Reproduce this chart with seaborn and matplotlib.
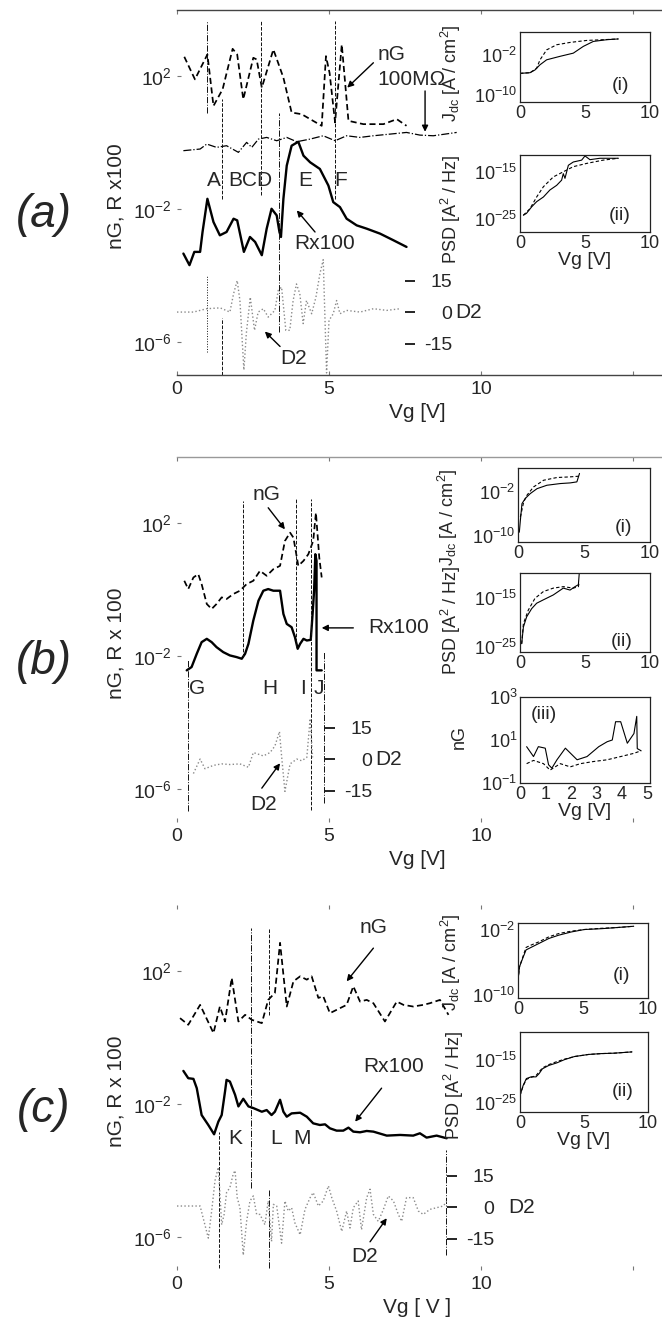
import numpy as np
import matplotlib
matplotlib.use('Agg')
import matplotlib.pyplot as plt
from matplotlib.ticker import NullLocator
import seaborn as sns

sns.set_style('white')
plt.rcParams['font.family'] = ['Liberation Sans', 'DejaVu Sans']
plt.rcParams['mathtext.fontset'] = 'custom'
plt.rcParams['mathtext.rm'] = 'Liberation Sans'
plt.rcParams['mathtext.it'] = 'Liberation Sans:italic'
plt.rcParams['mathtext.bf'] = 'Liberation Sans:bold'

# ---------------- data (log10 values for log axes) ----------------
# panel (a)
a_ng_x = [0.24, 0.59, 1.0, 1.2, 1.5, 1.83, 1.98, 2.18, 2.51, 2.62, 2.79, 3.17, 3.5, 3.77, 4.1, 4.76,
          4.9, 5.02, 5.2, 5.42, 5.64, 6.13, 6.79, 7.23, 7.55]
a_ng_lg = [2.59, 1.91, 2.66, 1.11, 1.61, 2.83, 2.66, 1.31, 2.56, 2.51, 1.66, 2.81, 1.96, 0.91, 0.86, 0.51,
           2.61, 2.1, 0.61, 2.96, 0.66, 0.56, 0.56, 0.71, 0.51]
a_r_x = [0.21, 0.41, 0.57, 0.76, 0.84, 1.0, 1.2, 1.41, 1.63, 1.86, 1.98, 2.2, 2.4, 2.57, 2.79, 2.95, 3.11,
         3.28, 3.37, 3.42, 3.5, 3.61, 3.77, 3.99, 4.16, 4.38, 4.7, 4.98, 5.14, 5.36, 5.58, 5.91, 6.24,
         6.68, 7.12, 7.55]
a_r_lg = [-3.34, -3.69, -3.29, -3.29, -2.69, -1.69, -2.39, -2.79, -2.69, -2.29, -2.34, -3.29, -2.84,
          -2.99, -3.39, -2.59, -1.99, -2.19, -2.69, -2.84, -1.69, -0.69, -0.09, 0.03, -0.39, -0.59,
          -0.79, -1.29, -1.79, -1.94, -2.29, -2.49, -2.59, -2.74, -2.94, -3.14]
a_m_x = [0.21, 0.76, 0.98, 1.3, 1.63, 2.02, 2.29, 2.46, 2.68, 2.95, 3.28, 3.61, 3.94, 4.38, 4.81, 5.2,
         5.58, 6.02, 6.46, 7.01, 7.55, 7.99, 8.43, 8.82, 9.2]
a_m_lg = [-0.24, -0.19, -0.04, -0.14, -0.09, -0.29, 0.01, -0.14, 0.11, 0.16, 0.06, 0.16, 0.03, 0.11,
          0.21, 0.06, 0.21, 0.16, 0.21, 0.26, 0.31, 0.23, 0.21, 0.26, 0.31]
a_d2_x = [0.0, 0.54, 0.98, 1.42, 1.74, 1.86, 1.98, 2.07, 2.2, 2.28, 2.41, 2.55, 2.67, 2.84, 3.0, 3.22,
          3.33, 3.44, 3.58, 3.71, 3.82, 3.93, 4.04, 4.15, 4.26, 4.43, 4.57, 4.7, 4.81, 4.92, 5.0, 5.14,
          5.25, 5.36, 5.58, 6.02, 6.46, 6.9, 7.34]
a_d2 = [0, 0, 1.6, 2, 0, 8.7, 15, 5.5, -27.6, -10.3, 7.1, -8.7, 0, 1.6, -2.4, 0.8, 10.3, 11.9, -8.7,
        -8.7, 5.5, 13.4, 8.7, -5.5, 5.5, -0.8, 7.1, 18.2, 25, -29, -4, -0.8, 5.5, -0.8, 0.8, 0, 1.6,
        0.8, 1.6]
a_vl_x = [1.0, 1.0, 1.49, 1.49, 2.76, 3.37, 5.2]
a_vl_lo = [0.9, -6.3, -1.69, -7.0, -1.59, -5.69, -1.69]
a_vl_hi = [3.66, -4.0, 1.31, -5.29, 3.66, 0.91, 3.66]
a_vl_ls = ['-.', ':', '--', '--', '--', '-.', '--']
a_marks = ['A', 'BCD', 'E', 'F']
a_marks_x = [1.2, 2.4, 4.21, 5.38]

a_i_x = [0.0, 0.77, 1.15, 1.54, 2.05, 3.08, 4.1, 4.87, 5.64, 6.67, 7.56]
a_i_lg = [-5.73, -5.6, -5.05, -4.0, -3.0, -2.3, -1.66, -0.3, 0.7, 1.05, 1.2]
a_i_dx = [0.0, 0.77, 1.28, 1.54, 2.05, 2.82, 3.85, 5.13, 6.4, 7.56]
a_i_dlg = [-5.73, -5.6, -4.7, -3.0, -1.0, 0.03, 0.5, 0.9, 1.05, 1.2]
a_ii_x = [0.26, 0.5, 0.9, 1.28, 1.8, 2.3, 2.82, 3.2, 3.33, 3.46, 3.72, 4.1, 4.74, 5.0, 5.38, 6.15, 7.56]
a_ii_lg = [-24.3, -23.9, -22.5, -21.4, -20.4, -18.9, -17.9, -16.8, -15.4, -16.4, -13.6, -12.9, -12.5,
           -11.6, -12.4, -12.1, -12.1]
a_ii_dx = [0.26, 0.77, 1.28, 1.8, 2.56, 3.33, 4.1, 5.13, 6.4, 7.56]
a_ii_dlg = [-24.3, -22.9, -20.4, -18.2, -16.1, -15.0, -13.9, -13.2, -12.5, -12.1]

# panel (b)
b_ng_x = [0.24, 0.37, 0.54, 0.7, 0.81, 0.98, 1.14, 1.3, 1.47, 1.63, 1.85, 2.07, 2.29, 2.51, 2.73, 2.95,
          3.17, 3.39, 3.55, 3.72, 3.83, 3.99, 4.16, 4.32, 4.48, 4.57, 4.68, 4.76]
b_ng_lg = [0.27, 0.02, 0.37, 0.47, 0.17, -0.43, -0.58, -0.43, -0.23, -0.28, -0.13, -0.03, 0.17, 0.27,
           0.57, 0.42, 0.62, 0.72, 1.47, 1.72, 1.57, 0.72, 0.87, 1.07, 1.47, 2.32, 0.97, 0.37]
b_r_x = [0.32, 0.48, 0.65, 0.81, 0.98, 1.14, 1.3, 1.52, 1.74, 1.96, 2.13, 2.24, 2.35, 2.51, 2.68, 2.84,
         3.0, 3.17, 3.39, 3.5, 3.61, 3.77, 3.88, 3.97, 4.05, 4.16, 4.27, 4.4, 4.46, 4.51, 4.55, 4.59,
         4.59, 4.76]
b_r_lg = [-2.43, -2.33, -1.93, -1.58, -1.48, -1.58, -1.73, -1.88, -1.98, -2.03, -2.08, -1.93, -1.63,
          -0.93, -0.33, -0.03, 0.02, -0.03, -0.03, -0.73, -1.03, -1.13, -1.43, -1.78, -1.63, -1.48,
          -1.53, -1.51, -0.73, -0.03, 1.07, 0.87, -2.43, -2.43]
b_d2_x = [0.54, 0.76, 0.92, 1.2, 1.47, 1.74, 2.07, 2.35, 2.51, 2.68, 2.84, 3.06, 3.22, 3.37, 3.44, 3.55,
          3.72, 3.94, 4.1, 4.27, 4.38, 4.46]
b_d2 = [-6.9, 0, -4.6, -3, -2.3, -2.6, -2.3, -3.9, 3.1, 2.3, 1.5, 3.1, 6.2, 13.1, 1.5, -15.4, -2.3, 0,
        -0.8, 0.8, 19.3, 0.8]
b_vl_x = [0.35, 2.18, 3.9, 4.4, 4.84]
b_vl_lo = [-6.68, -2.03, -1.73, -6.63, -6.43]
b_vl_hi = [-2.13, 2.67, 2.72, 2.72, -1.88]
b_vl_ls = ['-.', '--', '--', '--', '-.']
b_marks = ['G', 'H', 'I', 'J']
b_marks_x = [0.65, 3.06, 4.13, 4.65]

b_i_x = [0.1, 0.18, 0.3, 0.55, 0.93, 1.44, 2.19, 3.2, 3.95, 4.46, 4.66]
b_i_lg = [-9.4, -7.2, -4.15, -3.2, -2.3, -1.4, -0.77, -0.46, -0.34, -0.15, 1.4]
b_i_dx = [0.18, 0.43, 0.68, 1.18, 1.94, 2.95, 3.95, 4.66]
b_i_dlg = [-6.6, -3.85, -2.6, -1.08, 0.15, 0.65, 0.77, 0.9]
b_ii_x = [0.13, 0.26, 0.51, 0.9, 1.28, 1.8, 2.56, 3.33, 3.85, 4.23, 4.49, 4.56]
b_ii_lg = [-24.3, -20.9, -18.8, -17.1, -16.0, -15.3, -14.3, -12.9, -13.3, -12.6, -12.2, -9.8]
b_ii_dx = [0.13, 0.26, 0.64, 1.15, 1.8, 2.56, 3.33, 4.1, 4.49, 4.56]
b_ii_dlg = [-24.3, -20.2, -17.4, -15.0, -13.6, -12.9, -12.6, -12.9, -12.6, -11.6]
b_iii_x = [0.26, 0.53, 0.72, 0.99, 1.12, 1.25, 1.45, 1.78, 2.24, 2.63, 3.09, 3.42, 3.62, 3.75, 3.95,
           4.21, 4.47, 4.58, 4.6, 4.75]
b_iii_lg = [0.69, 0.23, 0.69, 0.62, -0.15, -0.31, 0.08, 0.62, 0.08, 0.23, 0.69, 0.92, 1.0, 1.85, 1.85,
            0.85, 1.3, 2.1, 0.6, 0.5]
b_iii_dx = [0.26, 0.53, 0.92, 1.18, 1.58, 1.97, 2.37, 2.89, 3.42, 3.95, 4.47, 4.75]
b_iii_dlg = [-0.1, 0.05, -0.1, -0.4, -0.1, -0.25, -0.1, 0.0, 0.08, 0.23, 0.38, 0.5]

# panel (c)
c_ng_x = [0.1, 0.37, 0.76, 1.2, 1.41, 1.58, 1.8, 2.02, 2.24, 2.46, 2.79, 3.0, 3.22, 3.39, 3.61, 3.83,
          4.05, 4.27, 4.43, 4.65, 4.81, 5.03, 5.25, 5.58, 5.8, 6.02, 6.24, 6.46, 6.84, 7.23, 7.45, 7.77,
          8.1, 8.32, 8.65, 8.93]
c_ng_lg = [0.59, 0.39, 0.99, 0.14, 0.94, 0.49, 1.8, 0.49, 0.69, 0.54, 0.44, 1.14, 1.35, 2.86, 0.94,
           1.7, 1.85, 1.75, 1.85, 1.2, 1.25, 0.74, 0.84, 0.99, 1.55, 1.09, 1.14, 1.04, 0.49, 1.09, 0.99,
           0.94, 0.99, 1.04, 1.14, 0.69]
c_r_x = [0.21, 0.37, 0.54, 0.65, 0.81, 1.03, 1.22, 1.36, 1.47, 1.58, 1.63, 1.74, 1.91, 2.02, 2.18, 2.35,
         2.51, 2.79, 2.95, 3.11, 3.22, 3.39, 3.5, 3.61, 3.77, 4.05, 4.27, 4.48, 4.7, 4.87, 5.03, 5.25,
         5.47, 5.64, 5.8, 6.02, 6.24, 6.46, 6.9, 7.34, 7.77, 7.99, 8.21, 8.54, 8.87]
c_r_lg = [-1.0, -1.22, -1.24, -1.52, -2.33, -2.63, -2.91, -2.53, -2.33, -1.62, -1.27, -1.32, -1.72,
          -2.07, -1.84, -2.07, -2.12, -2.23, -2.18, -2.33, -2.23, -1.87, -2.23, -2.38, -2.28, -2.26,
          -2.38, -2.58, -2.63, -2.61, -2.73, -2.8, -2.8, -2.71, -2.83, -2.85, -2.81, -2.83, -2.95,
          -2.93, -2.95, -2.88, -3.01, -2.95, -3.03]
c_d2_x = [0.0, 0.32, 0.76, 1.03, 1.14, 1.25, 1.36, 1.47, 1.55, 1.63, 1.74, 1.85, 1.91, 1.98, 2.07, 2.18,
          2.29, 2.4, 2.51, 2.62, 2.73, 2.89, 3.0, 3.11, 3.17, 3.28, 3.44, 3.55, 3.66, 3.77, 3.88, 4.05,
          4.21, 4.38, 4.48, 4.65, 4.81, 4.98, 5.09, 5.25, 5.42, 5.58, 5.69, 5.8, 5.96, 6.07, 6.24, 6.35,
          6.46, 6.62, 6.79, 6.95, 7.12, 7.28, 7.39, 7.55, 7.77, 7.94, 8.1, 8.32, 8.54, 8.76, 8.93]
c_d2 = [0.5, 0.5, 0.5, -14.8, -1.9, 12.6, 19.0, -8.4, -3.5, 6.9, 9.3, 15.8, 17.4, 4.5, -0.3, -22.9,
        -6.8, 2.9, 5.3, -3.5, -3.5, -8.4, 2.9, -16.4, 1.3, 0.5, -17.2, 2.9, -1.9, -0.3, -7.6, -13.2,
        -1.1, 4.5, 6.9, 0.5, 2.9, 10.1, 4.5, -1.9, -11.6, -1.9, -10.0, -0.3, 2.9, -10.8, 4.5, 8.5,
        -3.5, -6.8, -1.1, 5.3, 2.9, -3.5, -6.8, 4.5, 4.5, -1.9, -3.5, -1.1, -0.3, 0.5, 3.7]
c_vl_x = [1.38, 2.43, 3.04, 3.04, 8.85]
c_vl_lo = [-6.95, -4.54, 0.69, -6.95, -6.55]
c_vl_hi = [-2.83, 3.31, 3.31, -4.59, -3.38]
c_vl_ls = ['--', '-.', '--', '-.', '-.']
c_marks = ['K', 'L', 'M']
c_marks_x = [1.91, 3.26, 4.1]

c_i_x = [0.0, 0.12, 0.37, 0.62, 0.87, 1.62, 2.37, 3.12, 4.1, 5.1, 6.4, 7.6, 8.9]
c_i_lg = [-8.2, -6.55, -5.5, -4.5, -4.3, -3.7, -3.1, -2.7, -2.3, -2.0, -1.9, -1.76, -1.6]
c_i_dx = [0.0, 0.12, 0.62, 0.87, 1.62, 2.37, 3.12, 4.1, 5.1, 6.4, 7.6, 8.9]
c_i_dlg = [-8.2, -6.55, -4.2, -4.0, -3.5, -2.9, -2.5, -2.2, -2.0, -1.85, -1.76, -1.6]
c_ii_x = [0.0, 0.25, 0.5, 0.87, 1.25, 1.5, 1.75, 2.25, 2.87, 3.5, 4.25, 5.37, 6.37, 7.37, 8.75]
c_ii_lg = [-23.3, -20.9, -19.3, -18.9, -18.9, -18.1, -17.0, -16.2, -15.6, -14.8, -14.1, -13.6, -13.4,
           -13.3, -13.0]
c_ii_dx = [0.0, 0.25, 0.5, 0.87, 1.25, 1.75, 2.25, 2.87, 3.5, 4.25, 5.37, 6.37, 7.37, 8.75]
c_ii_dlg = [-23.3, -21.0, -19.5, -19.0, -18.6, -16.8, -16.0, -15.3, -14.7, -14.1, -13.6, -13.4,
            -13.3, -13.0]

# ---------------- figure ----------------
W, H = 662, 1323
PX0, PXV = 177, 30.4          # pixel of Vg=0 and pixels per volt (main panels)
fig = plt.figure(figsize=(W / 100, H / 100), dpi=100)


def px_axes(x0, y0, x1, y1):
    return fig.add_axes([x0 / W, 1 - y1 / H, (x1 - x0) / W, (y1 - y0) / H])


def v_at(px):
    return (px - PX0) / PXV


def line(ax, x, y, log=True, **kw):
    y = 10.0 ** np.asarray(y) if log else np.asarray(y)
    sns.lineplot(x=np.asarray(x), y=y, ax=ax, estimator=None, sort=False, **kw)


def main_panel(top, spines, spine_col, ylabel, xlabel, letter):
    ax = px_axes(PX0, top, W, top + 365)
    ax.set_facecolor('none')
    ax.set_yscale('log')
    ax.set_xlim(0, v_at(W))
    ax.set_ylim(1e-7, 1e4)
    ax.set_yticks([1e-6, 1e-2, 1e2])
    ax.yaxis.set_minor_locator(NullLocator())
    ax.set_xticks([0, 5, 10, 15])
    ax.set_xticklabels(['0', '5', '10', ''])
    for name, sp in ax.spines.items():
        sp.set_visible(name in spines)
        sp.set_color(spine_col)
        sp.set_linewidth(1.0)
    ax.tick_params(axis='both', direction='in', length=3, width=0.8, color='#777777',
                   labelsize=14, top=True, left=True, bottom=True, pad=4)
    ax.set_ylabel(ylabel, fontsize=15)
    ax.yaxis.set_label_coords(-0.107, 0.49)
    ax.set_xlabel(xlabel, fontsize=15, va='center')
    ax.xaxis.set_label_coords(0.495, -0.102)
    fig.text(44 / W, 1 - (top + 205) / H, letter, fontsize=33, style='italic',
             ha='center', va='center')
    return ax


def d2_panel(top, right_px, d2_label_px):
    ax = px_axes(PX0, top, right_px, top + 365)
    ax.set_facecolor('none')
    ax.set_xlim(0, v_at(right_px))
    ax.set_ylim(-30, 144)
    for sp in ax.spines.values():
        sp.set_visible(False)
    ax.set_xticks([])
    ax.yaxis.tick_right()
    ax.set_yticks([15, 0, -15])
    ax.set_yticklabels(['15', '0', '-15'])
    ax.tick_params(axis='y', direction='out', length=7, width=1.2, color='k', pad=27, labelsize=14)
    plt.setp(ax.get_yticklabels(), ha='right')
    ax.text(v_at(d2_label_px), 0, 'D2', fontsize=15, ha='left', va='center')
    return ax


def inset(x0, y0, x1, y1, xlim, ylim, yticks, xticks, ylabel, ylab_pos, tag, tag_pos, xlabel=None):
    ax = px_axes(x0, y0, x1, y1)
    ax.set_yscale('log')
    ax.set_xlim(*xlim)
    ax.set_ylim(10.0 ** ylim[0], 10.0 ** ylim[1])
    ax.set_yticks([10.0 ** t for t in yticks])
    ax.yaxis.set_minor_locator(NullLocator())
    ax.set_xticks(xticks)
    for sp in ax.spines.values():
        sp.set_color('#222222')
        sp.set_linewidth(0.9)
    ax.tick_params(axis='both', direction='in', length=2, width=0.6, labelsize=13, pad=2)
    ax.set_ylabel(ylabel, fontsize=13)
    ax.yaxis.set_label_coords(*ylab_pos)
    ax.text(tag_pos[0], tag_pos[1], tag, transform=ax.transAxes, fontsize=14,
            ha='center', va='center')
    if xlabel:
        ax.set_xlabel(xlabel, fontsize=14, labelpad=0)
    return ax


def arrow(ax, text, xy_text, xy_tail, xy_head, log=True):
    f = (lambda p: (p[0], 10.0 ** p[1])) if log else (lambda p: p)
    ax.text(*f(xy_text), text, fontsize=15, ha='center', va='center')
    ax.annotate('', xy=f(xy_head), xytext=f(xy_tail),
                arrowprops=dict(arrowstyle='-|>', color='k', lw=1.0, mutation_scale=9,
                                shrinkA=0, shrinkB=0))


def vlines(ax, xs, lo, hi, ls):
    for x, a, b, s in zip(xs, lo, hi, ls):
        ax.vlines(x, 10.0 ** a, 10.0 ** b, colors='#111111', linestyles=s, lw=0.7)


NG_STYLE = dict(color='k', linestyle=(0, (3.5, 2)), lw=1.25)
R_STYLE = dict(color='k', linestyle='-', lw=1.7)
D2_STYLE = dict(color='#8a8a8a', linestyle=':', lw=1.0)
IN_SOLID = dict(color='k', linestyle='-', lw=0.8)
IN_DASH = dict(color='k', linestyle=(0, (3, 2)), lw=0.8)

JDC = r'J$_{\rm dc}$ [A / cm$^2$]'
PSD = r'PSD [A$^2$ / Hz]'

# ---------------- panel (a) ----------------
ax = main_panel(10, ['top', 'bottom'], '#444444', 'nG, R x100', 'Vg [V]', '(a)')
d2 = d2_panel(10, 405, 455)
line(d2, a_d2_x, a_d2, log=False, **D2_STYLE)
line(ax, a_ng_x, a_ng_lg, **NG_STYLE)
line(ax, a_m_x, a_m_lg, color='k', linestyle='-.', lw=0.9)
line(ax, a_r_x, a_r_lg, **R_STYLE)
vlines(ax, a_vl_x, a_vl_lo, a_vl_hi, a_vl_ls)
for m, x in zip(a_marks, a_marks_x):
    ax.text(x, 10 ** -1.14, m, fontsize=15, ha='center', va='center')
arrow(ax, 'nG', (7.06, 2.66), (6.46, 2.41), (5.6, 1.66))
arrow(ax, '100MΩ', (7.7, 1.91), (8.16, 1.56), (8.16, 0.33))
arrow(ax, 'Rx100', (4.85, -3.04), (4.54, -2.69), (3.94, -2.04))
arrow(ax, 'D2', (3.83, -6.49), (3.39, -6.14), (2.89, -5.69))

ai = inset(520, 32, 650, 102, (0, 10), (-11.5, 2.6), [-10, -2], [0, 5, 10], JDC, (-0.44, 0.41),
           '(i)', (0.77, 0.24))
line(ai, a_i_x, a_i_lg, **IN_SOLID)
line(ai, a_i_dx, a_i_dlg, **IN_DASH)
aii = inset(520, 155, 650, 232, (0, 10), (-27.9, -11.4), [-25, -15], [0, 5, 10], PSD, (-0.44, 0.29),
            '(ii)', (0.77, 0.22), xlabel='Vg [V]')
line(aii, a_ii_x, a_ii_lg, **IN_SOLID)
line(aii, a_ii_dx, a_ii_dlg, **IN_DASH)

# ---------------- panel (b) ----------------
ax = main_panel(457, ['top'], '#999999', 'nG, R x 100', 'Vg [V]', '(b)')
d2 = d2_panel(457, 325, 375)
line(d2, b_d2_x, b_d2, log=False, **D2_STYLE)
line(ax, b_ng_x, b_ng_lg, **NG_STYLE)
line(ax, b_r_x, b_r_lg, **R_STYLE)
vlines(ax, b_vl_x, b_vl_lo, b_vl_hi, b_vl_ls)
for m, x in zip(b_marks, b_marks_x):
    ax.text(x, 10 ** -2.98, m, fontsize=15, ha='center', va='center')
arrow(ax, 'nG', (2.95, 2.87), (3.0, 2.47), (3.55, 1.82))
arrow(ax, 'Rx100', (7.28, -1.13), (5.8, -1.15), (4.76, -1.15))
arrow(ax, 'D2', (2.84, -6.48), (2.79, -5.98), (3.39, -5.23))

bi = inset(518, 468, 650, 542, (0, 10), (-11.2, 2.4), [-10, -2], [0, 5, 10], JDC, (-0.44, 0.34),
           '(i)', (0.8, 0.2))
line(bi, b_i_x, b_i_lg, **IN_SOLID)
line(bi, b_i_dx, b_i_dlg, **IN_DASH)
bii = inset(520, 573, 650, 652, (0, 10), (-26, -9.8), [-25, -15], [0, 5, 10], PSD, (-0.44, 0.4),
            '(ii)', (0.78, 0.13))
line(bii, b_ii_x, b_ii_lg, **IN_SOLID)
line(bii, b_ii_dx, b_ii_dlg, **IN_DASH)
biii = inset(520, 697, 650, 783, (0, 5.1), (-1, 3), [-1, 1, 3], [0, 1, 2, 3, 4, 5], 'nG',
             (-0.4, 0.53), '(iii)', (0.18, 0.8), xlabel='Vg [V]')
line(biii, b_iii_x, b_iii_lg, **IN_SOLID)
line(biii, b_iii_dx, b_iii_dlg, **IN_DASH)

# ---------------- panel (c) ----------------
ax = main_panel(905, [], '#444444', 'nG, R x 100', 'Vg [ V ]', '(c)')
d2 = d2_panel(905, 447, 508)
line(d2, c_d2_x, c_d2, log=False, **D2_STYLE)
line(ax, c_ng_x, c_ng_lg, **NG_STYLE)
line(ax, c_r_x, c_r_lg, **R_STYLE)
vlines(ax, c_vl_x, c_vl_lo, c_vl_hi, c_vl_ls)
for m, x in zip(c_marks, c_marks_x):
    ax.text(x, 10 ** -3.03, m, fontsize=15, ha='center', va='center')
arrow(ax, 'nG', (6.46, 3.31), (6.46, 2.7), (5.58, 1.7))
arrow(ax, 'Rx100', (7.12, -0.87), (6.73, -1.52), (5.86, -2.53))
arrow(ax, 'D2', (6.18, -6.6), (6.35, -6.15), (6.9, -5.44))

ci = inset(518, 923, 648, 998, (0, 10), (-10.4, -1.2), [-10, -2], [0, 5, 10], JDC, (-0.42, 0.48),
           '(i)', (0.8, 0.3))
line(ci, c_i_x, c_i_lg, **IN_SOLID)
line(ci, c_i_dx, c_i_dlg, **IN_DASH)
cii = inset(520, 1032, 648, 1112, (0, 10), (-27.2, -8.3), [-25, -15], [0, 5, 10], PSD, (-0.42, 0.33),
            '(ii)', (0.8, 0.25), xlabel='Vg [V]')
line(cii, c_ii_x, c_ii_lg, **IN_SOLID)
line(cii, c_ii_dx, c_ii_dlg, **IN_DASH)

fig.savefig('out.png', dpi=100)
